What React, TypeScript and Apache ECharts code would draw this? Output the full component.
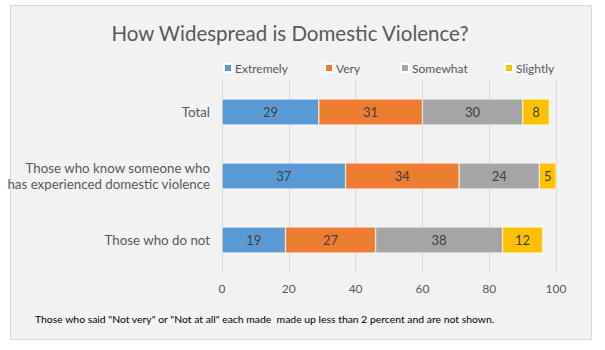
import React, { useEffect, useRef } from "react";
import * as echarts from "echarts";

const categories = [
  "Total",
  "Those who know someone who\nhas experienced domestic violence",
  "Those who do not",
];
const seriesNames = ["Extremely", "Very", "Somewhat", "Slightly"];
const extremely = [29, 37, 19];
const very = [31, 34, 27];
const somewhat = [30, 24, 38];
const slightly = [8, 5, 12];
const colors = ["#5B9BD5", "#ED7D31", "#A5A5A5", "#FFC000"];
const legendLefts = [223, 324, 400, 504];
const xTicks = [0, 20, 40, 60, 80, 100];

const FONT = "Lato";

export default function App() {
  const ref = useRef<HTMLDivElement>(null);
  useEffect(() => {
    document.body.style.margin = "0";
    const chart = echarts.init(ref.current!, null, { renderer: "svg" });
    const values = [extremely, very, somewhat, slightly];
    chart.setOption({
      animation: false,
      backgroundColor: "#ffffff",
      textStyle: { fontFamily: FONT },
      graphic: [
        {
          type: "rect",
          z: -10,
          silent: true,
          shape: { x: 10.5, y: 5.5, width: 581, height: 334 },
          style: { fill: "#f2f2f2", stroke: "#d9d9d9", lineWidth: 1 },
        },
        {
          type: "text",
          left: 35,
          top: 314,
          style: {
            text: 'Those who said "Not very" or "Not at all" each made  made up less than 2 percent and are not shown.',
            fontFamily: FONT,
            fontSize: 10.4,
            fill: "#000000",
          },
        },
      ],
      title: {
        text: "How Widespread is Domestic Violence?",
        left: 285,
        textAlign: "center",
        top: 17,
        textStyle: {
          fontFamily: FONT,
          fontSize: 20.5,
          fontWeight: "normal",
          color: "#595959",
        },
      },
      legend: seriesNames.map((n, i) => ({
        data: [n],
        left: legendLefts[i],
        top: 62,
        itemWidth: 8,
        itemHeight: 8,
        itemGap: 3,
        icon: "rect",
        padding: 0,
        textStyle: { fontFamily: FONT, fontSize: 12, color: "#595959", padding: [0, 0, 0, -2] },
      })),
      grid: { left: 222, right: 49, top: 80, bottom: 78, containLabel: false, outerBoundsMode: "none" },
      xAxis: {
        type: "value",
        min: xTicks[0],
        max: xTicks[xTicks.length - 1],
        interval: 20,
        axisLine: { show: false },
        axisTick: { show: false },
        axisLabel: { color: "#595959", fontSize: 12, fontFamily: FONT, margin: 10 },
        splitLine: { lineStyle: { color: "#d9d9d9", width: 1 } },
      },
      yAxis: {
        type: "category",
        data: categories,
        inverse: true,
        axisLine: { show: false },
        axisTick: { show: false },
        axisLabel: {
          color: "#595959",
          fontSize: 13.3,
          fontFamily: FONT,
          margin: 12,
          lineHeight: 16,
          align: "right",
        },
      },
      series: seriesNames.map((n, i) => ({
        name: n,
        type: "bar",
        stack: "total",
        data: values[i],
        barWidth: 26,
        itemStyle: { color: colors[i], borderColor: "#ffffff", borderWidth: 0.5 },
        label: {
          show: true,
          position: "inside",
          color: "#404040",
          fontSize: 13,
          fontFamily: FONT,
        },
      })),
    });
    return () => chart.dispose();
  }, []);
  return (
    <div
      ref={ref}
      style={{ position: "absolute", left: 0, top: 0, width: 605, height: 350 }}
    />
  );
}
